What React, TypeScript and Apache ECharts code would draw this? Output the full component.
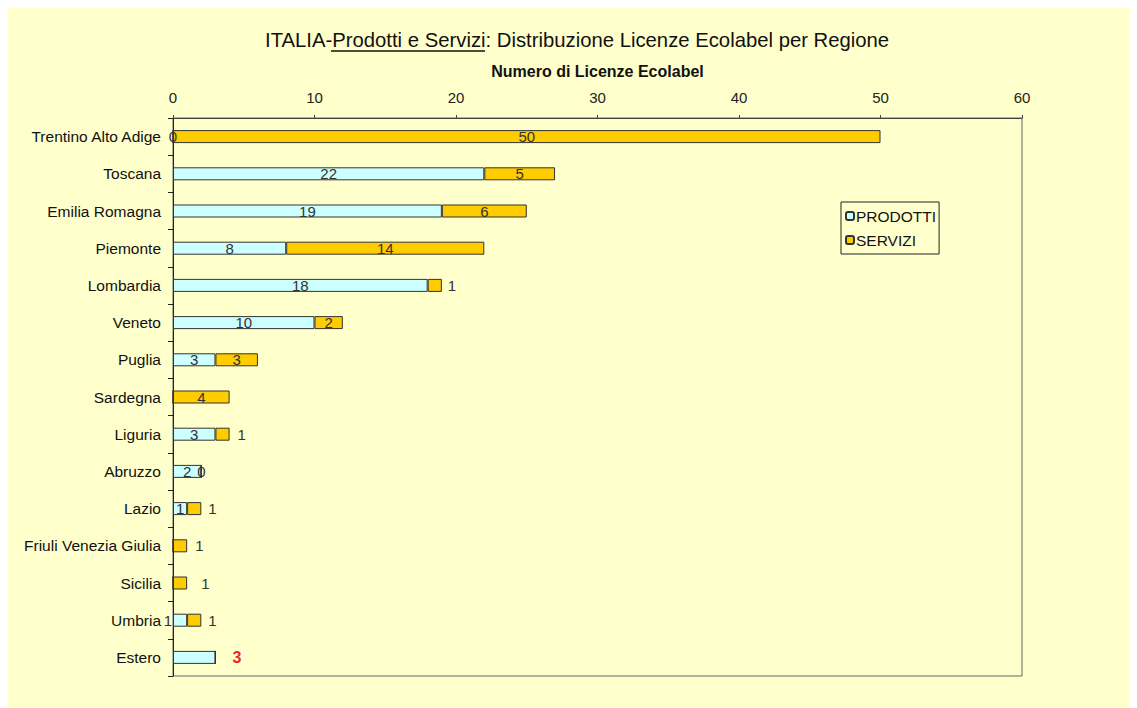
import React, { useEffect, useRef } from "react";
import * as echarts from "echarts";

const regions = [
  "Trentino Alto Adige",
  "Toscana",
  "Emilia Romagna",
  "Piemonte",
  "Lombardia",
  "Veneto",
  "Puglia",
  "Sardegna",
  "Liguria",
  "Abruzzo",
  "Lazio",
  "Friuli Venezia Giulia",
  "Sicilia",
  "Umbria",
  "Estero",
];
const prodotti = [0, 22, 19, 8, 18, 10, 3, 0, 3, 2, 1, 0, 0, 1, 3];
const servizi = [50, 5, 6, 14, 1, 2, 3, 4, 1, 0, 1, 1, 1, 1, 0];
const xTicks = [0, 10, 20, 30, 40, 50, 60];

const FONT = "Liberation Sans, Arial, sans-serif";

// label placement per bar (style only)
const prodLabel: (string | null)[] = [
  "inside", "inside", "inside", "inside", "inside", "inside", "inside", null,
  "inside", "inside", "inside", null, null, "left", "estero",
];
const servLabel: (string | null)[] = [
  "inside", "inside", "inside", "inside", "right", "inside", "inside", "inside",
  "right", "inside", "right", "right", "right", "right", null,
];
const servDist = [0, 0, 0, 0, 6, 0, 0, 0, 8, 0, 7, 8, 14, 7, 0];

function buildData(values: number[], placements: (string | null)[], dist?: number[]) {
  return values.map((v, i) => {
    const p = placements[i];
    if (p === null) return { value: v, label: { show: false } };
    if (p === "estero")
      return {
        value: v,
        label: {
          show: true,
          position: "right",
          distance: 17,
          color: "#e8262b",
          fontWeight: "bold",
          fontSize: 16,
        },
      };
    if (p === "left") return { value: v, label: { show: true, position: "left", distance: 1 } };
    if (p === "right")
      return { value: v, label: { show: true, position: "right", distance: dist ? dist[i] : 6 } };
    return { value: v, label: { show: true, position: "inside" } };
  });
}

export default function App() {
  const ref = useRef<HTMLDivElement>(null);
  useEffect(() => {
    if (!ref.current) return;
    const chart = echarts.init(ref.current, null, { renderer: "svg" });
    chart.setOption({
      animation: false,
      backgroundColor: "#FFFFCC",
      title: {
        text: "{a|ITALIA-}{a|Prodotti e Servizi}{a|: Distribuzione Licenze Ecolabel per Regione}",
        left: 257,
        top: 22,
        padding: 0,
        textStyle: {
          rich: {
            a: { fontFamily: FONT, fontSize: 20.3, color: "#111", fontWeight: "normal" },
          },
        },
      },
      graphic: [
        {
          type: "line",
          shape: { x1: 323, y1: 43, x2: 477, y2: 43 },
          style: { stroke: "#111", lineWidth: 1.5 },
        },
      ],
      legend: {
        orient: "vertical",
        left: 833,
        top: 194,
        itemWidth: 8,
        itemHeight: 8,
        itemGap: 8,
        padding: [6, 3, 6, 4],
        borderColor: "#222",
        borderWidth: 1,
        backgroundColor: "#FFFFCC",
        textStyle: { fontFamily: FONT, fontSize: 15.5, color: "#111", padding: [0, 0, 0, -3] },
        data: ["PRODOTTI", "SERVIZI"],
      },
      grid: {
        left: 165,
        right: 115,
        top: 110,
        bottom: 32,
        show: true,
        borderColor: "#666",
        borderWidth: 1,
        backgroundColor: "transparent",
      },
      xAxis: {
        type: "value",
        position: "top",
        min: xTicks[0],
        max: xTicks[xTicks.length - 1],
        interval: 10,
        name: "Numero di Licenze Ecolabel",
        nameLocation: "middle",
        nameGap: 39,
        nameTextStyle: { fontFamily: FONT, fontSize: 16, fontWeight: "bold", color: "#111" },
        axisLine: { show: true, lineStyle: { color: "#444", width: 1 } },
        axisTick: { show: true, length: 3, lineStyle: { color: "#444" } },
        axisLabel: { fontFamily: FONT, fontSize: 15, color: "#222", margin: 13 },
        splitLine: { show: false },
      },
      yAxis: {
        type: "category",
        inverse: true,
        data: regions,
        axisLine: { show: true, lineStyle: { color: "#222", width: 1 } },
        axisTick: { show: true, length: 5, lineStyle: { color: "#222" } },
        axisLabel: { fontFamily: FONT, fontSize: 15.5, color: "#111", margin: 12 },
        splitLine: { show: false },
      },
      series: [
        {
          name: "PRODOTTI",
          type: "bar",
          stack: "tot",
          barWidth: 13,
          itemStyle: { color: "#CCFFFF", borderColor: "#333", borderWidth: 1 },
          label: { fontFamily: FONT, fontSize: 15, color: "#333" },
          data: buildData(prodotti, prodLabel),
        },
        {
          name: "SERVIZI",
          type: "bar",
          stack: "tot",
          barWidth: 13,
          itemStyle: { color: "#FFCC00", borderColor: "#333", borderWidth: 1 },
          label: { fontFamily: FONT, fontSize: 15, color: "#333" },
          data: buildData(servizi, servLabel, servDist),
        },
      ],
    });
    return () => chart.dispose();
  }, []);
  return <div ref={ref} style={{ width: 1129, height: 700 }} />;
}
